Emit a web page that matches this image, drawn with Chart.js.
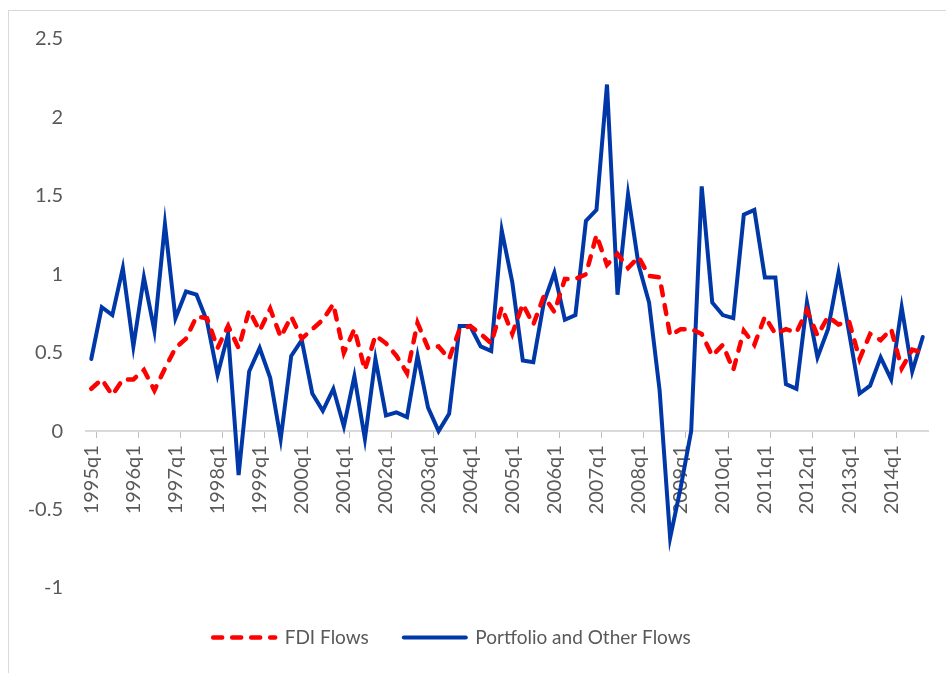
<!DOCTYPE html>
<html>
<head>
<meta charset="utf-8">
<script src="https://cdn.jsdelivr.net/npm/chart.js@4.4.1/dist/chart.umd.min.js"></script>
<style>
  html, body { margin: 0; padding: 0; background: #ffffff; }
  #wrap { position: relative; width: 946px; height: 673px; overflow: hidden; }
  #frame { position: absolute; left: 8px; top: 10px; width: 960px; height: 700px;
           border-top: 1px solid #d9d9d9; border-left: 1px solid #d9d9d9; box-sizing: border-box; }
  canvas { position: absolute; left: 0; top: 0; }
</style>
</head>
<body>
<div id="wrap">
  <div id="frame"></div>
  <canvas id="c" width="946" height="673"></canvas>
</div>
<script>
const quarters = [
  "1995q1","1995q2","1995q3","1995q4","1996q1","1996q2","1996q3","1996q4",
  "1997q1","1997q2","1997q3","1997q4","1998q1","1998q2","1998q3","1998q4",
  "1999q1","1999q2","1999q3","1999q4","2000q1","2000q2","2000q3","2000q4",
  "2001q1","2001q2","2001q3","2001q4","2002q1","2002q2","2002q3","2002q4",
  "2003q1","2003q2","2003q3","2003q4","2004q1","2004q2","2004q3","2004q4",
  "2005q1","2005q2","2005q3","2005q4","2006q1","2006q2","2006q3","2006q4",
  "2007q1","2007q2","2007q3","2007q4","2008q1","2008q2","2008q3","2008q4",
  "2009q1","2009q2","2009q3","2009q4","2010q1","2010q2","2010q3","2010q4",
  "2011q1","2011q2","2011q3","2011q4","2012q1","2012q2","2012q3","2012q4",
  "2013q1","2013q2","2013q3","2013q4","2014q1","2014q2","2014q3","2014q4"
];

const fdiFlows = [
  0.27, 0.33, 0.23, 0.33, 0.33, 0.39, 0.26, 0.40, 0.53, 0.59,
  0.73, 0.72, 0.53, 0.67, 0.53, 0.77, 0.64, 0.78, 0.60, 0.73,
  0.59, 0.65, 0.71, 0.81, 0.50, 0.65, 0.39, 0.61, 0.56, 0.48,
  0.37, 0.69, 0.53, 0.54, 0.46, 0.65, 0.67, 0.62, 0.56, 0.79,
  0.62, 0.81, 0.68, 0.86, 0.76, 0.97, 0.97, 1.00, 1.25, 1.06,
  1.13, 1.04, 1.11, 0.99, 0.98, 0.61, 0.65, 0.65, 0.62, 0.48,
  0.55, 0.39, 0.64, 0.55, 0.73, 0.62, 0.65, 0.63, 0.77, 0.61,
  0.73, 0.68, 0.70, 0.46, 0.62, 0.58, 0.65, 0.40, 0.52, 0.50
];

const portfolioFlows = [
  0.46, 0.79, 0.74, 1.04, 0.54, 0.98, 0.64, 1.32, 0.72, 0.89,
  0.87, 0.70, 0.36, 0.62, -0.28, 0.38, 0.53, 0.34, -0.05, 0.48,
  0.58, 0.24, 0.13, 0.27, 0.03, 0.35, -0.05, 0.46, 0.10, 0.12,
  0.09, 0.48, 0.15, 0.00, 0.11, 0.67, 0.67, 0.54, 0.51, 1.28,
  0.95, 0.45, 0.44, 0.82, 1.01, 0.71, 0.74, 1.34, 1.41, 2.21,
  0.87, 1.51, 1.06, 0.82, 0.26, -0.68, -0.36, 0.00, 1.56, 0.82,
  0.74, 0.72, 1.38, 1.41, 0.98, 0.98, 0.30, 0.27, 0.82, 0.47,
  0.65, 1.01, 0.63, 0.24, 0.29, 0.47, 0.33, 0.79, 0.38, 0.60
];

const seriesNames = ["FDI Flows", "Portfolio and Other Flows"];
const yTicks = [-1, -0.5, 0, 0.5, 1, 1.5, 2, 2.5];

const FONT = "Lato, 'Open Sans', sans-serif";
const TEXT = "#595959";
const RED = '#ff0000';
const BLUE = '#0038a8';
const RED_DASH = [9, 10];

const legendSizer = {
  id: 'legendSizer',
  afterInit(chart) {
    const lg = chart.legend;
    if (!lg) return;
    const orig = lg.fit.bind(lg);
    lg.fit = function () { orig(); this.height = 85; };
  },
  afterLayout(chart) {
    const lg = chart.legend;
    if (!lg) return;
    lg.left -= 12;
    lg.right -= 12;
    lg.top += 5;
    lg.bottom += 5;
  }
};

new Chart(document.getElementById('c'), {
  type: 'line',
  data: {
    labels: quarters,
    datasets: [
      {
        label: seriesNames[0],
        data: fdiFlows,
        borderColor: RED,
        backgroundColor: RED,
        borderWidth: 4.5,
        borderDash: RED_DASH,
        borderCapStyle: 'round',
        pointRadius: 0,
        pointStyle: 'line',
        tension: 0,
        fill: false
      },
      {
        label: seriesNames[1],
        data: portfolioFlows,
        borderColor: BLUE,
        backgroundColor: BLUE,
        borderWidth: 4,
        borderCapStyle: 'round',
        pointRadius: 0,
        pointStyle: 'line',
        tension: 0,
        fill: false
      }
    ]
  },
  options: {
    responsive: false,
    animation: false,
    devicePixelRatio: 1,
    layout: { padding: { left: 0, right: 18, top: 39, bottom: 0 } },
    plugins: {
      legend: {
        position: 'bottom',
        labels: {
          usePointStyle: true,
          pointStyle: 'line',
          pointStyleWidth: 62,
          padding: 35,
          color: TEXT,
          font: { family: FONT, size: 19 },
          generateLabels(chart) {
            return chart.data.datasets.map((ds, i) => ({
              text: ds.label,
              fillStyle: ds.borderColor,
              strokeStyle: ds.borderColor,
              fontColor: TEXT,
              lineWidth: ds.borderWidth,
              lineDash: ds.borderDash || [],
              lineCap: 'round',
              pointStyle: 'line',
              hidden: !chart.isDatasetVisible(i),
              datasetIndex: i
            }));
          }
        }
      },
      tooltip: { enabled: false }
    },
    scales: {
      x: {
        type: 'category',
        position: { y: 0 },
        offset: true,
        afterFit(s) { s.height = 0; s.paddingLeft = 0; s.paddingRight = 0; },
        grid: {
          offset: true,
          drawOnChartArea: false,
          drawTicks: true,
          tickLength: 6,
          lineWidth: 1,
          color: (ctx) => (ctx.index % 4 === 1 ? '#bfbfbf' : 'rgba(0,0,0,0)')
        },
        border: { display: true, color: '#d9d9d9', width: 2 },
        ticks: {
          autoSkip: false,
          minRotation: 90,
          maxRotation: 90,
          padding: 8,
          color: TEXT,
          font: { family: FONT, size: 20 },
          callback: (val, idx) => (idx % 4 === 0 ? quarters[idx] : '')
        }
      },
      y: {
        min: yTicks[0],
        max: yTicks[yTicks.length - 1],
        afterFit(s) { s.width = 86; },
        afterBuildTicks(s) { s.ticks = yTicks.map(v => ({ value: v })); },
        grid: { display: false, drawTicks: false },
        border: { display: false },
        ticks: {
          padding: 23,
          color: TEXT,
          font: { family: FONT, size: 20 },
          callback: (v) => String(v)
        }
      }
    }
  },
  plugins: [legendSizer]
});
</script>
</body>
</html>
